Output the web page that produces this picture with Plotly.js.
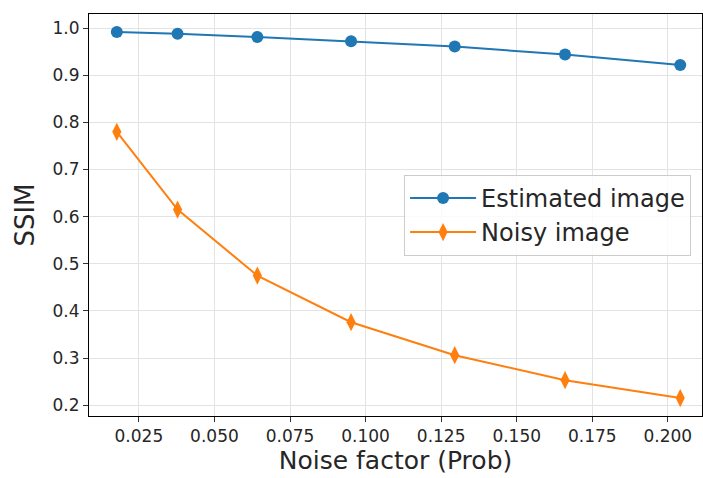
<!DOCTYPE html>
<html><head><meta charset="utf-8">
<script src="https://cdn.plot.ly/plotly-3.0.1.min.js"></script>
<style>html,body{margin:0;padding:0;background:#fff;}#chart{width:703px;height:478px;}</style>
</head><body><div id="chart"></div>
<script>
const noiseFactor = [0.0177, 0.0378, 0.0642, 0.0952, 0.1295, 0.1660, 0.2041];
const estimatedSSIM = [0.992, 0.988, 0.981, 0.972, 0.961, 0.944, 0.922];
const noisySSIM = [0.780, 0.615, 0.475, 0.376, 0.306, 0.253, 0.215];
const xTicks = [0.025, 0.050, 0.075, 0.100, 0.125, 0.150, 0.175, 0.200];
const xTickText = ["0.025", "0.050", "0.075", "0.100", "0.125", "0.150", "0.175", "0.200"];
const yTicks = [0.2, 0.3, 0.4, 0.5, 0.6, 0.7, 0.8, 0.9, 1.0];
const yTickText = ["0.2", "0.3", "0.4", "0.5", "0.6", "0.7", "0.8", "0.9", "1.0"];

const font = "DejaVu Sans, sans-serif";
const traces = [
  {x: noiseFactor, y: estimatedSSIM, name: "Estimated image", mode: "lines+markers",
   line: {color: "#1f77b4", width: 2}, marker: {symbol: "circle", size: 12, color: "#1f77b4"}},
  {x: noiseFactor, y: noisySSIM, name: "Noisy image", mode: "lines+markers",
   line: {color: "#ff7f0e", width: 2}, marker: {symbol: "diamond-tall", size: 13, color: "#ff7f0e"}}
];
const axisCommon = {
  showline: true, mirror: true, linecolor: "#000", linewidth: 1,
  ticks: "outside", ticklen: 5, tickcolor: "#333", tickwidth: 1,
  showgrid: true, gridcolor: "#e3e3e3", gridwidth: 1, zeroline: false,
  tickfont: {family: font, size: 17, color: "#262626"}
};
const layout = {
  width: 703, height: 478,
  margin: {l: 89, r: 1, t: 14, b: 62},
  paper_bgcolor: "#fff", plot_bgcolor: "#fff",
  showlegend: true,
  xaxis: Object.assign({}, axisCommon, {
    range: [0.0085, 0.2113], tickvals: xTicks, ticktext: xTickText,
    title: {text: "Noise factor (Prob)", font: {family: font, size: 25, color: "#262626"}, standoff: 4}
  }),
  yaxis: Object.assign({}, axisCommon, {
    range: [0.177, 1.030], tickvals: yTicks, ticktext: yTickText,
    title: {text: "SSIM", font: {family: font, size: 26, color: "#262626"}, standoff: 10}
  }),
  legend: {x: 0.514, y: 0.600, xanchor: "left", yanchor: "top",
    bgcolor: "rgba(255,255,255,0.8)", bordercolor: "#cccccc", borderwidth: 1,
    itemwidth: 66,
    font: {family: font, size: 24, color: "#262626"}}
};
Plotly.newPlot("chart", traces, layout, {displayModeBar: false, staticPlot: true});
</script></body></html>
